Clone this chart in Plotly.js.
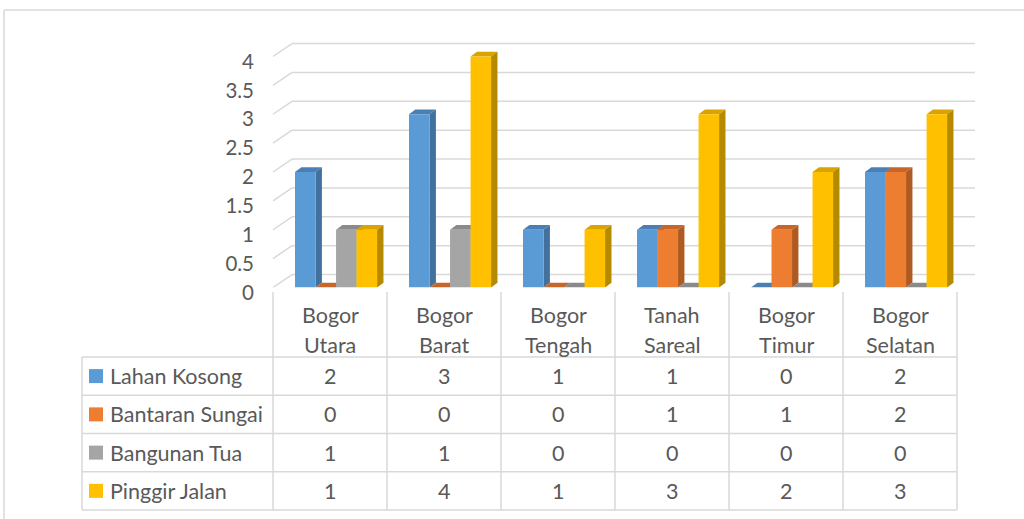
<!DOCTYPE html>
<html>
<head>
<meta charset="utf-8">
<script src="https://cdn.plot.ly/plotly-3.0.1.min.js"></script>
<style>html,body{margin:0;padding:0;background:#fff;}#chart{width:1024px;height:519px;}</style>
</head>
<body>
<div id="chart"></div>
<script>
// ---- data ----
const categories = ["Bogor Utara", "Bogor Barat", "Bogor Tengah", "Tanah Sareal", "Bogor Timur", "Bogor Selatan"];
const seriesNames = ["Lahan Kosong", "Bantaran Sungai", "Bangunan Tua", "Pinggir Jalan"];
const lahanKosong    = [2, 3, 1, 1, 0, 2];
const bantaranSungai = [0, 0, 0, 1, 1, 2];
const bangunanTua    = [1, 1, 0, 0, 0, 0];
const pinggirJalan   = [1, 4, 1, 3, 2, 3];
const yTickVals   = [0, 0.5, 1, 1.5, 2, 2.5, 3, 3.5, 4];
const yTickLabels = ["0", "0.5", "1", "1.5", "2", "2.5", "3", "3.5", "4"];

const seriesValues = [lahanKosong, bantaranSungai, bangunanTua, pinggirJalan];

// ---- style ----
const W = 1024, H = 519;
const frontColors = ["#5B9BD5", "#ED7D31", "#A5A5A5", "#FFC000"];
const sideColors  = ["#41719C", "#AE5A21", "#7C7C7C", "#B58900"];
const topColors   = ["#4B7FB3", "#C8662A", "#8A8A8A", "#D9A300"];
const FONT = "Lato, 'Open Sans', sans-serif";
const TXT = "#595959";
const LINE = "#D9D9D9";
const TSIZE = 21.5;

const plotL = 273, plotR = 957;        // px
const zeroPx = 287.5, unitPx = 57.75;  // px per y unit
const yMax = 4.4;
const barW = 0.18, barOff0 = -0.307;
const DX = 0.056, DY = 0.081;          // bar depth in data units
const backDXpx = 19, backDY = 0.225;   // back wall offset
const backR = 975;

const px = x => x / W;
const py = y => 1 - y / H;

const idx = categories.map((_, i) => i);

const traces = seriesValues.map((vals, s) => ({
  type: "bar",
  name: seriesNames[s],
  x: idx,
  y: vals,
  width: barW,
  offset: barOff0 + s * barW,
  marker: {color: frontColors[s], line: {width: 0}},
  hoverinfo: "name+y",
  showlegend: false
}));

const shapes = [];
// back wall gridlines
yTickVals.forEach(v => {
  shapes.push({type: "line", xref: "paper", yref: "y", layer: "below",
    x0: px(plotL), y0: v, x1: px(plotL + backDXpx), y1: v + backDY,
    line: {color: LINE, width: 1.5}});
  shapes.push({type: "line", xref: "paper", yref: "y", layer: "below",
    x0: px(plotL + backDXpx), y0: v + backDY, x1: px(backR), y1: v + backDY,
    line: {color: LINE, width: 1.5}});
});

// 3D sides and tops
seriesValues.forEach((vals, s) => {
  vals.forEach((v, i) => {
    const xl = i + barOff0 + s * barW, xr = xl + barW;
    shapes.push({type: "path", xref: "x", yref: "y", layer: "between",
      path: `M${xl},${v} L${xr},${v} L${xr + DX},${v + DY} L${xl + DX},${v + DY} Z`,
      fillcolor: topColors[s], line: {width: 0}});
    if (v > 0) {
      shapes.push({type: "path", xref: "x", yref: "y", layer: "between",
        path: `M${xr},0 L${xr + DX},${DY} L${xr + DX},${v + DY} L${xr},${v} Z`,
        fillcolor: sideColors[s], line: {width: 0}});
    }
  });
});

// outer chart border
shapes.push({type: "line", xref: "paper", yref: "paper", x0: px(4), y0: py(10), x1: px(4), y1: 0, line: {color: LINE, width: 1.5}});
shapes.push({type: "line", xref: "paper", yref: "paper", x0: px(4), y0: py(10), x1: 1, y1: py(10), line: {color: LINE, width: 1.5}});

// data table
const colW = (plotR - plotL) / categories.length;
const headTop = 292, tableTop = 357, rowH = 38.25, tableLeft = 82;
const nRows = seriesNames.length;
const tableBottom = tableTop + nRows * rowH;
for (let k = 0; k <= categories.length; k++) {
  const x = plotL + k * colW;
  shapes.push({type: "line", xref: "paper", yref: "paper", x0: px(x), y0: py(headTop), x1: px(x), y1: py(tableBottom), line: {color: LINE, width: 1.5}});
}
shapes.push({type: "line", xref: "paper", yref: "paper", x0: px(tableLeft), y0: py(tableTop), x1: px(tableLeft), y1: py(tableBottom), line: {color: LINE, width: 1.5}});
for (let r = 0; r <= nRows; r++) {
  const y = tableTop + r * rowH;
  shapes.push({type: "line", xref: "paper", yref: "paper", x0: px(tableLeft), y0: py(y), x1: px(plotR), y1: py(y), line: {color: LINE, width: 1.5}});
}

const annotations = [];
categories.forEach((c, i) => {
  const cx = plotL + (i + 0.5) * colW;
  const parts = c.split(" ");
  parts.forEach((p, j) => {
    annotations.push({xref: "paper", yref: "paper", x: px(cx), y: py(315 + j * 30),
      text: p, showarrow: false, xanchor: "center", yanchor: "middle",
      font: {family: FONT, size: TSIZE, color: TXT}});
  });
});
seriesNames.forEach((n, r) => {
  const cy = tableTop + (r + 0.5) * rowH;
  shapes.push({type: "rect", xref: "paper", yref: "paper",
    x0: px(89), x1: px(103), y0: py(cy - 7), y1: py(cy + 7),
    fillcolor: frontColors[r], line: {width: 0}});
  annotations.push({xref: "paper", yref: "paper", x: px(108), y: py(cy),
    text: n, showarrow: false, xanchor: "left", yanchor: "middle",
    font: {family: FONT, size: TSIZE, color: TXT}});
  seriesValues[r].forEach((v, i) => {
    annotations.push({xref: "paper", yref: "paper", x: px(plotL + (i + 0.5) * colW), y: py(cy),
      text: String(v), showarrow: false, xanchor: "center", yanchor: "middle",
      font: {family: FONT, size: TSIZE, color: TXT}});
  });
});

const layout = {
  width: W, height: H,
  margin: {l: 0, r: 0, t: 0, b: 0, pad: 0},
  paper_bgcolor: "#fff", plot_bgcolor: "rgba(0,0,0,0)",
  barmode: "overlay",
  showlegend: false,
  xaxis: {domain: [px(plotL), px(plotR)], range: [-0.5, categories.length - 0.5],
    showgrid: false, zeroline: false, showline: false, showticklabels: false, ticks: "", fixedrange: true},
  yaxis: {domain: [py(zeroPx), py(zeroPx - yMax * unitPx)], range: [0, yMax],
    tickvals: yTickVals, ticktext: yTickLabels,
    showgrid: false, zeroline: false, showline: false, ticks: "",
    ticklabelstandoff: 18, ticklabelshift: 5,
    tickfont: {family: FONT, size: 20.5, color: TXT}, fixedrange: true},
  shapes: shapes,
  annotations: annotations
};

Plotly.newPlot("chart", traces, layout, {displayModeBar: false, staticPlot: true});
</script>
</body>
</html>
